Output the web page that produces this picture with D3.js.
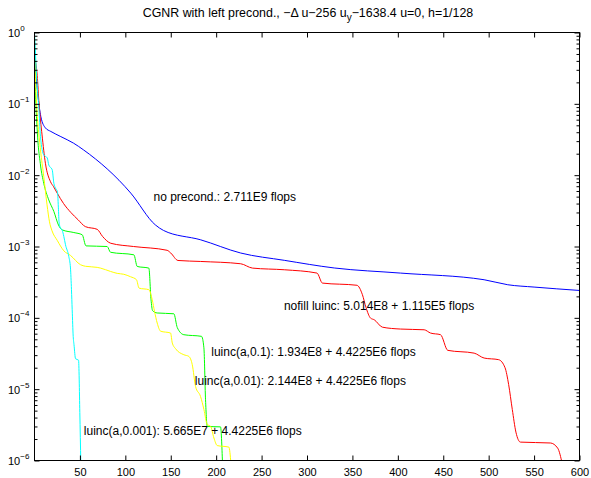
<!DOCTYPE html>
<html>

<head>
    <meta charset='utf-8'>
    <title>CGNR with left precond.</title>
    <script type="text/javascript" src="https://cdnjs.cloudflare.com/ajax/libs/d3/7.8.5/d3.min.js"></script>
    <style>
        body { margin: 0; background: #fff; }
        svg { font-family: "Liberation Sans", Arial, Helvetica, sans-serif; }
    </style>
</head>

<body>
    <script>
        // residual history per preconditioner: iteration number and relative residual
        const noPrecIter = [0, 7, 12, 18, 29, 43, 54, 106, 133, 142, 183, 227, 275, 330, 403, 495, 521, 550, 600];
        const noPrecRes = [0.4, 0.066, 0.046, 0.041, 0.0347, 0.0281, 0.0226, 0.0056, 0.00201, 0.00168,
            0.00124, 8.1e-4, 6.4e-4, 5.0e-4, 4.24e-4, 3.42e-4, 2.91e-4, 2.7e-4, 2.42e-4];

        const nofillIter = [0, 3, 5, 8.3, 12, 17.6, 21, 25, 32, 40, 48, 56, 69, 75, 84, 109, 146, 150, 158, 183, 227, 240,
            275, 311, 317, 355, 361, 365, 370, 374, 383, 403, 429, 436, 447, 455, 484, 495, 511, 518, 522, 526, 530,
            535, 568, 576, 581];
        const nofillRes = [0.45, 0.25, 0.1, 0.0367, 0.0147, 0.0081, 0.0069, 0.0056, 0.0040, 0.0030, 0.00237, 0.0019,
            0.00174, 0.00138, 0.00111, 0.00100, 8.85e-4, 8.1e-4, 6.37e-4, 6.17e-4, 5.73e-4, 4.98e-4, 4.72e-4, 4.24e-4,
            3.07e-4, 2.86e-4, 2.11e-4, 1.39e-4, 9.9e-5, 9.4e-5, 7.4e-5, 6.96e-5, 6.8e-5, 6.12e-5, 5.8e-5, 3.5e-5,
            3.2e-5, 2.73e-5, 2.59e-5, 2.0e-5, 1.16e-5, 5.2e-6, 2.5e-6, 1.81e-6, 1.76e-6, 1.49e-6, 9.0e-7];

        const luinc1Iter = [0, 1, 3, 6.6, 10.2, 15.7, 21.3, 26.4, 30.5, 43.3, 52.5, 56.7, 80, 83.7, 109.4, 113.1, 125.9,
            128.3, 130, 135.1, 153.4, 157.2, 164.4, 183.9, 186.5, 188.3, 190.2, 204.8, 207];
        const luinc1Res = [0.9, 0.174, 0.043, 0.0139, 0.0077, 0.0045, 0.0031, 0.0020, 0.00171, 0.00157, 0.00146, 0.00102,
            0.00100, 8.3e-4, 7.65e-4, 5.25e-4, 4.98e-4, 1.79e-4, 1.26e-4, 1.17e-4, 1.14e-4, 7.3e-5, 5.8e-5, 5.5e-5,
            3.8e-5, 7.1e-6, 3.0e-6, 2.96e-6, 9.0e-7];

        const luinc01Iter = [0, 2, 6.6, 10.2, 13.8, 16.5, 19.3, 25, 32.3, 39.6, 50.7, 56.2, 69, 72.7, 83.7, 91.1, 98.3,
            105.7, 112.3, 115.1, 125.9, 129.6, 132.2, 135.1, 138.8, 149.8, 151.7, 155.3, 164.4, 169.9, 173.7, 177.3,
            182.8, 186.5, 190.2, 193.8, 197.5, 201.2, 214, 216.3];
        const luinc01Res = [0.5, 0.12, 0.0226, 0.0096, 0.00384, 0.00222, 0.00166, 0.00122, 8.7e-4, 7.5e-4, 5.55e-4,
            5.28e-4, 5.1e-4, 4.98e-4, 4.47e-4, 4.2e-4, 4.08e-4, 3.77e-4, 3.42e-4, 2.61e-4, 2.48e-4, 1.79e-4, 1.22e-4,
            8.45e-5, 6.5e-5, 6.12e-5, 4.43e-5, 3.69e-5, 3.04e-5, 2.88e-5, 2.2e-5, 1.09e-5, 7.9e-6, 5.2e-6, 3.18e-6,
            3.03e-6, 2.07e-6, 1.62e-6, 1.54e-6, 9.0e-7];

        const luinc001Iter = [0, 3, 4.7, 6.6, 10.2, 14, 15.7, 19.5, 21.3, 23.1, 25.3, 26.4, 27, 28.6, 30.5, 32.3, 34.1,
            37.8, 39.6, 40.7, 41.5, 42.6, 43.5, 45.2, 48.5, 49.9, 51];
        const luinc001Res = [1.0, 0.174, 0.091, 0.0347, 0.0192, 0.0175, 0.0139, 0.0119, 0.0077, 0.0066, 0.00583,
            0.00327, 0.00222, 0.00181, 0.00169, 0.00138, 0.00106, 7.2e-4, 5.0e-4, 2.48e-4, 1.3e-4, 5.5e-5, 4.2e-5,
            2.67e-5, 2.55e-5, 4.7e-6, 9.0e-7];

        const seriesLabels = [
            "no precond.: 2.711E9 flops",
            "nofill luinc: 5.014E8 + 1.115E5 flops",
            "luinc(a,0.1): 1.934E8 + 4.4225E6 flops",
            "luinc(a,0.01): 2.144E8 + 4.4225E6 flops",
            "luinc(a,0.001): 5.665E7 + 4.4225E6 flops"
        ];
        // where each label sits, in data units (iteration, residual)
        const labelIter = [131, 274.6, 194.6, 176.5, 54.3];
        const labelRes = [4.92e-3, 1.49e-4, 3.32e-5, 1.29e-5, 2.65e-6];

        const xTicks = [50, 100, 150, 200, 250, 300, 350, 400, 450, 500, 550, 600];
        const yExponents = [0, -1, -2, -3, -4, -5, -6];

        const w = 591;
        const h = 478;
        const plotLeft = 34.5, plotRight = 579.5, plotTop = 32.5, plotBottom = 460.5;

        const series = [
            { iter: noPrecIter, res: noPrecRes, color: "#0000ff" },
            { iter: nofillIter, res: nofillRes, color: "#ff0000" },
            { iter: luinc1Iter, res: luinc1Res, color: "#00ff00" },
            { iter: luinc01Iter, res: luinc01Res, color: "#ffff00" },
            { iter: luinc001Iter, res: luinc001Res, color: "#00ffff" }
        ];

        const xScale = d3.scaleLinear().domain([0, 600]).range([plotLeft, plotRight]);
        const yScale = d3.scaleLog().domain([1e-6, 1]).range([plotBottom, plotTop]);

        const svg = d3.select("body")
            .append("svg")
            .attr("width", w)
            .attr("height", h);

        svg.append("clipPath").attr("id", "plotClip")
            .append("rect")
            .attr("x", plotLeft).attr("y", plotTop)
            .attr("width", plotRight - plotLeft).attr("height", plotBottom - plotTop);

        const line = d3.line()
            .x(d => xScale(d[0]))
            .y(d => yScale(d[1]))
            .curve(d3.curveMonotoneX);

        svg.append("g")
            .attr("clip-path", "url(#plotClip)")
            .selectAll("path")
            .data(series)
            .enter()
            .append("path")
            .attr("d", s => line(d3.zip(s.iter, s.res)))
            .attr("fill", "none")
            .attr("stroke", s => s.color)
            .attr("stroke-width", 1);

        // minor log ticks 2..9 in every decade
        const minorTicks = [];
        yExponents.slice(1).forEach(e => {
            for (let m = 2; m <= 9; m++) minorTicks.push(m * Math.pow(10, e));
        });
        const majorTicks = yExponents.map(e => Math.pow(10, e));

        const styleAxis = g => {
            g.select(".domain").remove();
            g.selectAll("line").attr("stroke", "#000");
            g.selectAll("text").attr("fill", "#000").attr("font-size", 11);
        };

        svg.append("g")
            .attr("transform", `translate(0,${plotBottom})`)
            .call(d3.axisBottom(xScale).tickValues(xTicks).tickSizeInner(-5).tickSizeOuter(0).tickPadding(8))
            .call(styleAxis);

        svg.append("g")
            .attr("transform", `translate(0,${plotTop})`)
            .call(d3.axisTop(xScale).tickValues(xTicks).tickSizeInner(-5).tickSizeOuter(0).tickFormat(""))
            .call(styleAxis);

        const yLeft = svg.append("g")
            .attr("transform", `translate(${plotLeft},0)`)
            .call(d3.axisLeft(yScale).tickValues(majorTicks).tickSizeInner(-5).tickSizeOuter(0).tickPadding(0))
            .call(styleAxis);

        yLeft.selectAll(".tick text")
            .attr("text-anchor", "start")
            .attr("x", -26.5)
            .attr("dy", "0.35em")
            .text(null)
            .each(function (d) {
                const t = d3.select(this);
                const e = Math.round(Math.log10(d));
                t.append("tspan").text("10");
                t.append("tspan")
                    .attr("font-size", 8)
                    .attr("dy", "-0.75em")
                    .text(e === 0 ? "0" : "\u2212" + Math.abs(e));
            });

        svg.append("g")
            .attr("transform", `translate(${plotLeft},0)`)
            .call(d3.axisLeft(yScale).tickValues(minorTicks).tickSizeInner(-3).tickSizeOuter(0).tickFormat(""))
            .call(styleAxis);

        svg.append("g")
            .attr("transform", `translate(${plotRight},0)`)
            .call(d3.axisRight(yScale).tickValues(majorTicks).tickSizeInner(-5).tickSizeOuter(0).tickFormat(""))
            .call(styleAxis);

        svg.append("g")
            .attr("transform", `translate(${plotRight},0)`)
            .call(d3.axisRight(yScale).tickValues(minorTicks).tickSizeInner(-3).tickSizeOuter(0).tickFormat(""))
            .call(styleAxis);

        // axes box
        svg.append("rect")
            .attr("x", plotLeft).attr("y", plotTop)
            .attr("width", plotRight - plotLeft).attr("height", plotBottom - plotTop)
            .attr("fill", "none")
            .attr("stroke", "#000")
            .attr("stroke-width", 1);

        svg.selectAll("text.note")
            .data(seriesLabels)
            .enter()
            .append("text")
            .attr("class", "note")
            .attr("x", (d, i) => xScale(labelIter[i]))
            .attr("y", (d, i) => yScale(labelRes[i]))
            .attr("dy", "0.35em")
            .attr("font-size", 12)
            .attr("fill", "#000")
            .text(d => d);

        const title = svg.append("text")
            .attr("x", 308)
            .attr("y", 17)
            .attr("text-anchor", "middle")
            .attr("font-size", 12.4)
            .attr("fill", "#000");
        title.append("tspan").text("CGNR with left precond., \u2212\u0394 u\u2212256 u");
        title.append("tspan").attr("dy", 4).attr("font-size", 10).text("y");
        title.append("tspan").attr("dy", -4).text("\u22121638.4 u=0, h=1/128");

    </script>
</body>

</html>
